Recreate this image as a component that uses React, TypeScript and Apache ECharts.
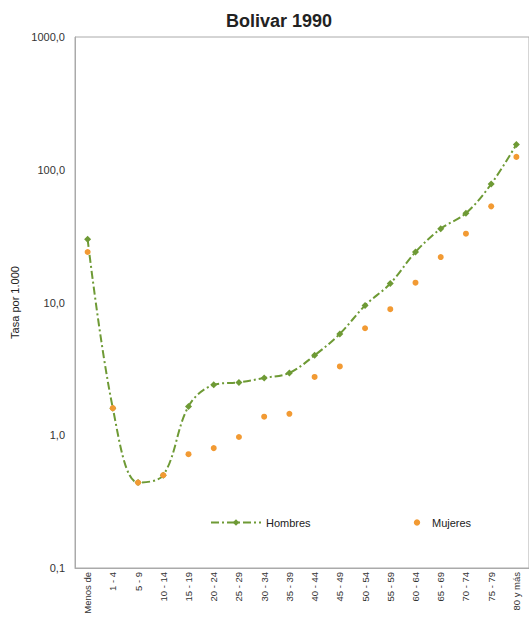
import React, { useEffect, useRef } from "react";
import * as echarts from "echarts";

const categories = [
  "Menos de", "1 - 4", "5 - 9", "10 - 14", "15 - 19", "20 - 24", "25 - 29", "30 - 34", "35 - 39",
  "40 - 44", "45 - 49", "50 - 54", "55 - 59", "60 - 64", "65 - 69", "70 - 74", "75 - 79", "80 y más",
];
const hombres = [30, 1.6, 0.44, 0.5, 1.65, 2.4, 2.5, 2.7, 2.95, 4.0, 5.8, 9.5, 13.9, 24, 36, 47, 78, 155];
const mujeres = [24, 1.6, 0.44, 0.5, 0.72, 0.8, 0.97, 1.38, 1.45, 2.75, 3.3, 6.4, 8.9, 14.1, 22, 33, 53, 125];

const GREEN = "#6E9A35";
const ORANGE = "#F29A33";

export default function App() {
  const ref = useRef<HTMLDivElement>(null);
  useEffect(() => {
    if (!ref.current) return;
    const chart = echarts.init(ref.current, undefined, { renderer: "svg" });
    chart.setOption({
      animation: false,
      backgroundColor: "#ffffff",
      textStyle: { fontFamily: "Liberation Sans, Arial, sans-serif" },
      title: {
        text: "Bolivar 1990",
        left: 274,
        top: 7,
        textAlign: "center",
        textStyle: { fontSize: 18, fontWeight: "bold", color: "#222" },
      },
      grid: { left: 75, right: -2, top: 37, bottom: 69, show: true, borderColor: "#aaaaaa", borderWidth: 1 },
      legend: [
        {
          left: 205,
          top: 512,
          itemWidth: 50,
          itemHeight: 8,
          textStyle: { fontSize: 11, color: "#222" },
          data: ["Hombres"],
        },
        {
          left: 402,
          top: 512,
          itemWidth: 20,
          itemHeight: 8,
          textStyle: { fontSize: 11, color: "#222" },
          data: ["Mujeres"],
        },
      ],
      xAxis: {
        type: "category",
        data: categories,
        axisLine: { show: true, lineStyle: { color: "#aaaaaa" } },
        axisTick: { show: false },
        axisLabel: { interval: 0, rotate: 90, fontSize: 9.5, color: "#333", margin: 4 },
      },
      yAxis: {
        type: "log",
        logBase: 10,
        min: 0.1,
        max: 1000,
        name: "Tasa por 1.000",
        nameLocation: "middle",
        nameGap: 55,
        nameTextStyle: { fontSize: 11, color: "#222" },
        axisLine: { show: true, lineStyle: { color: "#aaaaaa" } },
        axisTick: { show: false },
        splitLine: { show: false },
        axisLabel: {
          fontSize: 11,
          color: "#333",
          margin: 10,
          formatter: (v: number) => v.toFixed(1).replace(".", ","),
        },
      },
      series: [
        {
          name: "Hombres",
          type: "line",
          data: hombres,
          smooth: 0.35,
          symbol: "diamond",
          symbolSize: 7,
          itemStyle: { color: GREEN },
          lineStyle: { color: GREEN, width: 2, type: [8, 3, 2, 3] },
        },
        {
          name: "Mujeres",
          type: "line",
          data: mujeres,
          symbol: "circle",
          symbolSize: 6,
          itemStyle: { color: ORANGE },
          lineStyle: { width: 0, opacity: 0 },
        },
      ],
    });
    return () => chart.dispose();
  }, []);
  return <div ref={ref} style={{ position: "fixed", left: 0, top: 0, width: 529, height: 637 }} />;
}
